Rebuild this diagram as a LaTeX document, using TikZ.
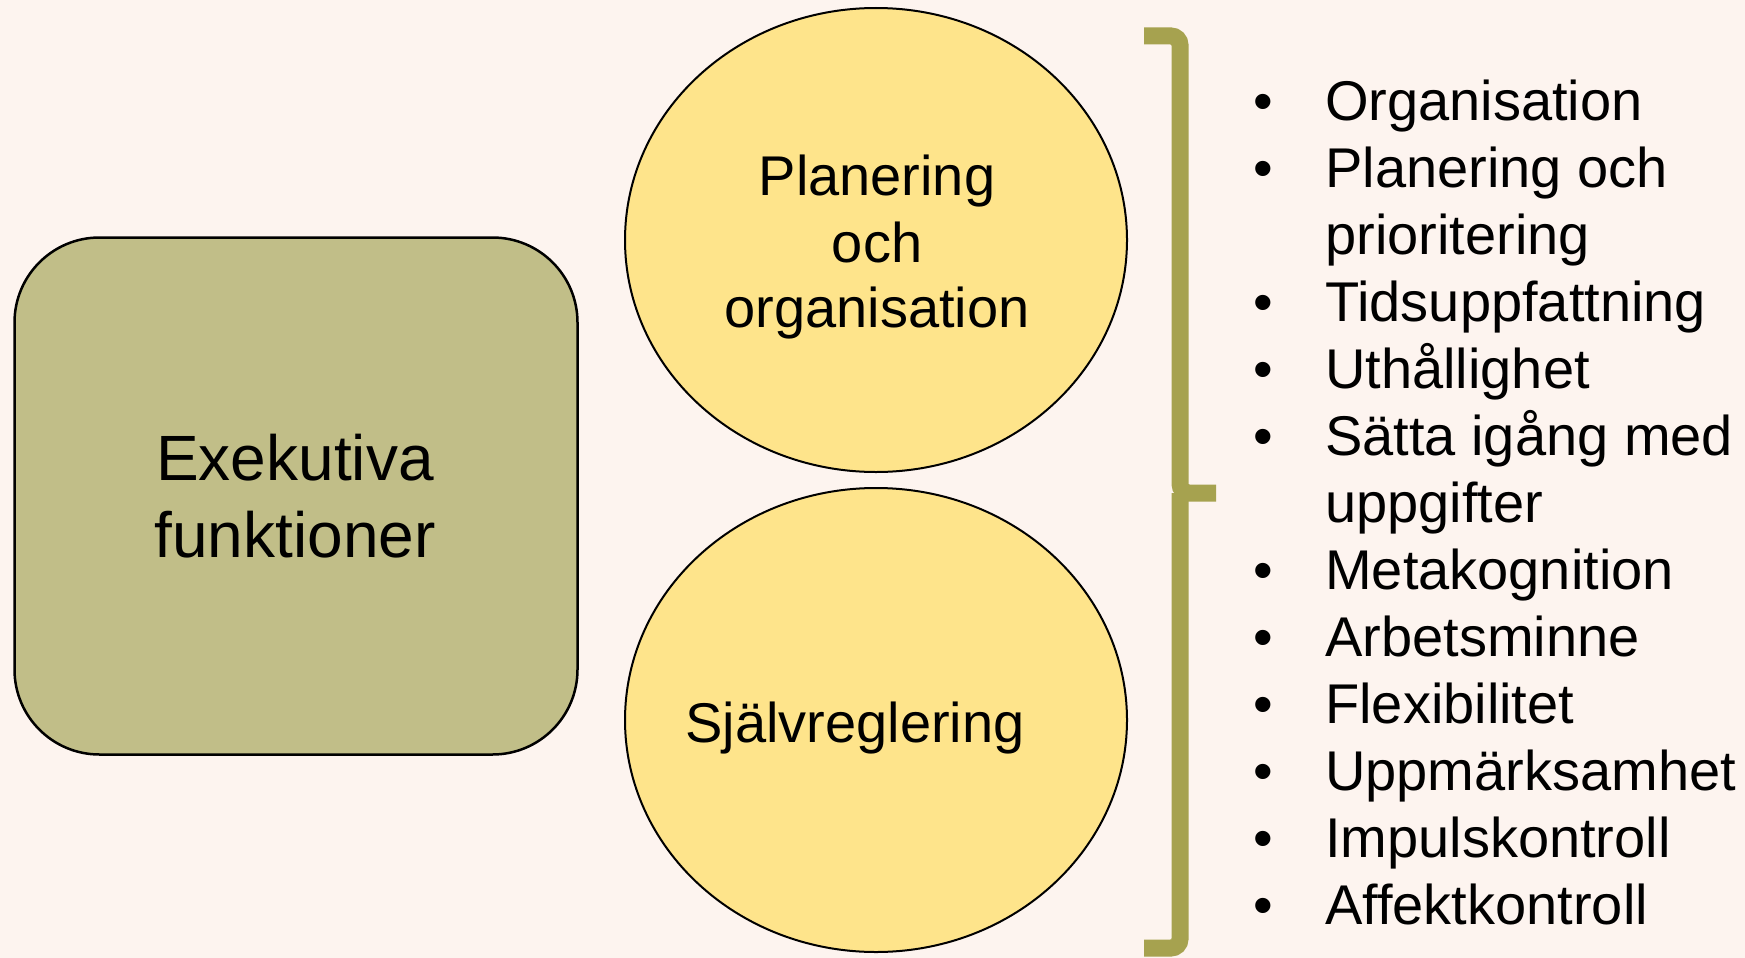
\documentclass[tikz,border=0pt]{standalone}
\usepackage{fontspec}
\setmainfont{Liberation Sans}
\usetikzlibrary{shapes.geometric}
\definecolor{bgc}{HTML}{FDF4EF}
\definecolor{boxc}{HTML}{C1BE88}
\definecolor{circc}{HTML}{FEE48B}
\definecolor{bracec}{HTML}{A6A24F}
\begin{document}
\begin{tikzpicture}[x=1pt,y=-1pt,
  txt/.style={font=\fontsize{56}{67}\selectfont, inner sep=0pt, anchor=base},
  ltxt/.style={font=\fontsize{56}{67}\selectfont, inner sep=0pt, anchor=base west},
  big/.style={font=\fontsize{64}{77}\selectfont, inner sep=0pt, anchor=base},
  oval/.style={ellipse, draw=black, line width=2pt, fill=circc, inner sep=0pt,
    minimum width=502pt, minimum height=464pt}]
\fill[bgc] (0,0) rectangle (1745,958);
\useasboundingbox (0,0) rectangle (1745,958);
% left box
\node[draw=black, line width=2.5pt, fill=boxc, rounded corners=85pt, inner sep=0pt,
  minimum width=563pt, minimum height=517pt, anchor=north west] (box) at (13.25,236.25) {};
\node[big] (e1) at (295,480) {Exekutiva};
\node[big] (e2) at (295,557) {funktioner};
% ovals
\node[oval] (top) at (876,240) {};
\node[oval] (bot) at (876,720) {};
\node[txt] (t1) at (877,195) {Planering};
\node[txt] (t2) at (877,262) {och};
\node[txt] (t3) at (877,327) {organisation};
\node[txt] (b1) at (855,742) {Självreglering};
% brace
\coordinate (bt) at (1144,36);
\coordinate (bm) at (1180,493);
\coordinate (btip) at (1216,493);
\coordinate (bb) at (1144,948);
\draw[bracec, line width=17pt, rounded corners=9pt] (bt) -| (bm) -- (btip);
\draw[bracec, line width=17pt, rounded corners=9pt] (bb) -| (bm);
% list
\foreach \i/\t/\b in {0/Organisation/1, 1/Planering och/1, 2/prioritering/0,
  3/Tidsuppfattning/1, 4/Uthållighet/1, 5/Sätta igång med/1, 6/uppgifter/0,
  7/Metakognition/1, 8/Arbetsminne/1, 9/Flexibilitet/1, 10/Uppmärksamhet/1,
  11/Impulskontroll/1, 12/Affektkontroll/1}{
  \node[ltxt] (l\i) at (1325,{120+67.08*\i}) {\t};
  \ifnum\b=1 \node[txt] (p\i) at (1263,{120+67.08*\i}) {•};\fi
}
\end{tikzpicture}
\end{document}
